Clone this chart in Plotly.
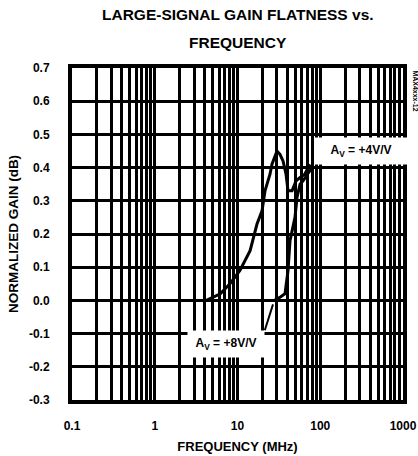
import plotly.graph_objects as go

# Large-signal gain flatness, two closed-loop gain settings
freq_a = [0.1, 1, 4.2, 6.2, 8.1, 10.7, 14.2, 17.2, 19.8, 21.5, 24.7, 26.1, 30.0,
          32.6, 35.5, 38.6, 40.8, 45.6, 51, 57, 65, 75]
gain_a = [0.0, 0.0, 0.0, 0.02, 0.05, 0.09, 0.15, 0.23, 0.27, 0.33, 0.38, 0.41, 0.45,
          0.44, 0.42, 0.38, 0.33, 0.33, 0.36, 0.37, 0.38, 0.41]

freq_b = [0.1, 1, 10, 28, 33, 37.5, 40.8, 43.1, 49.5, 52.4, 57, 62, 70, 80]
gain_b = [0.0, 0.0, 0.0, 0.0, 0.01, 0.02, 0.09, 0.18, 0.25, 0.31, 0.35, 0.36, 0.38, 0.40]

label_a = "A<sub>V</sub> = +4V/V"
label_b = "A<sub>V</sub> = +8V/V"

x_major = [0.1, 1, 10, 100, 1000]
x_ticktext = ["0.1", "1", "10", "100", "1000"]
x_minor = [m * 10 ** e for e in range(-1, 3) for m in range(2, 10)]

y_ticks = [0.7, 0.6, 0.5, 0.4, 0.3, 0.2, 0.1, 0.0, -0.1, -0.2, -0.3]
y_ticktext = ["0.7", "0.6", "0.5", "0.4", "0.3", "0.2", "0.1", "0.0", "-0.1", "-0.2", "-0.3"]

FONT = "Liberation Sans, Arial, sans-serif"

fig = go.Figure()
for f, g in ((freq_a, gain_a), (freq_b, gain_b)):
    fig.add_trace(go.Scatter(x=f, y=g, mode="lines",
                             line=dict(color="black", width=3),
                             showlegend=False, hoverinfo="skip"))

fig.update_layout(
    width=418, height=456,
    margin=dict(l=72, r=15, t=68, b=56),
    paper_bgcolor="white", plot_bgcolor="white",
    font=dict(family=FONT, color="black"),
)

fig.update_xaxes(
    type="log", range=[-1, 3], automargin=False,
    tickvals=x_major, ticktext=x_ticktext, ticks="",
    ticklabelstandoff=12,
    tickfont=dict(size=12, family=FONT, weight="bold"),
    showgrid=True, gridcolor="black", gridwidth=3,
    minor=dict(tickvals=x_minor, showgrid=True, gridcolor="black", gridwidth=3, ticks=""),
    showline=True, linecolor="black", linewidth=4, mirror=True,
    zeroline=False,
    title=dict(text="<b>FREQUENCY (MHz)</b>", font=dict(size=13), standoff=10),
)
fig.update_yaxes(
    range=[-0.3, 0.7], automargin=False,
    tickvals=y_ticks, ticktext=y_ticktext, ticks="",
    ticklabelstandoff=16,
    tickfont=dict(size=12, family=FONT, weight="bold"),
    showgrid=True, gridcolor="black", gridwidth=3,
    showline=True, linecolor="black", linewidth=4, mirror=True,
    zeroline=False,
    title=dict(text="<b>NORMALIZED GAIN (dB)</b>", font=dict(size=13.5), standoff=8),
)

# Two-line heading
fig.add_annotation(xref="paper", yref="paper", x=0.5, y=1.16, yanchor="middle",
                   text="<b>LARGE-SIGNAL GAIN FLATNESS vs.</b>", showarrow=False,
                   font=dict(size=15.5))
fig.add_annotation(xref="paper", yref="paper", x=0.5, y=1.078, yanchor="middle",
                   text="<b>FREQUENCY</b>", showarrow=False, font=dict(size=15.5))

# Curve labels
fig.add_annotation(x=2.49, y=0.45, xref="x", yref="y", text="<b>" + label_a + "</b>",
                   showarrow=False, bgcolor="white", width=90, height=24,
                   font=dict(size=12))
fig.add_annotation(x=1.429, y=-0.012, xref="x", yref="y",
                   ax=1.33, ay=-0.09, axref="x", ayref="y",
                   xanchor="right", yanchor="top",
                   text="<b>" + label_b + "</b>", showarrow=True,
                   arrowhead=0, arrowwidth=2, arrowcolor="black",
                   bgcolor="white", width=74, height=24, font=dict(size=12))

# Figure code along the right edge
fig.add_annotation(xref="paper", yref="paper", x=1.02, y=1.0, xanchor="left", yanchor="top",
                   text="<b>MAX4xxx-12</b>", textangle=90, showarrow=False,
                   font=dict(size=7))

fig.write_html("out.html")
